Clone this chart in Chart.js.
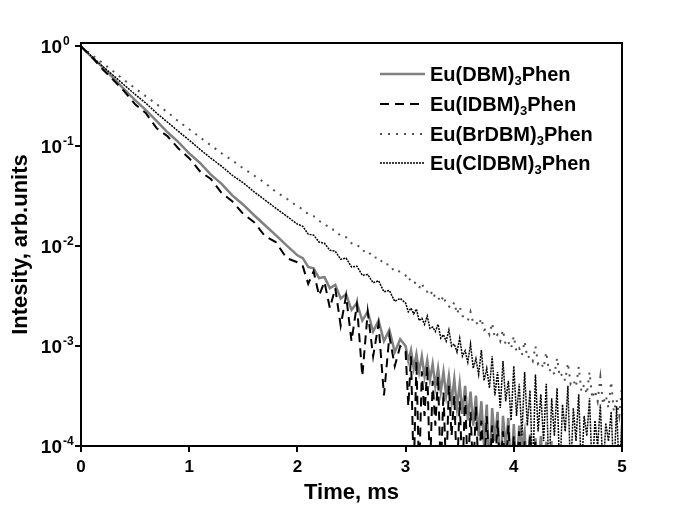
<!DOCTYPE html>
<html>
<head>
<meta charset="utf-8">
<script src="https://cdn.jsdelivr.net/npm/chart.js@4.4.0/dist/chart.umd.min.js"></script>
<style>
  html, body { margin: 0; padding: 0; background: #fff; }
  #wrap { width: 678px; height: 521px; }
</style>
</head>
<body>
<div id="wrap"><canvas id="decay" width="678" height="521"></canvas></div>
<script>
// time axis, ms (coarse at the start, finer where the tails get noisy)
const times = [
  0, 0.1, 0.2, 0.3, 0.4, 0.5, 0.6, 0.7, 0.8, 0.9, 1, 1.1, 1.2, 1.3, 1.4, 1.5, 1.6, 1.7, 1.8, 1.9, 2,
  2.05, 2.1, 2.15, 2.2, 2.25, 2.3, 2.35, 2.4, 2.45, 2.5, 2.55, 2.6, 2.65, 2.7, 2.75, 2.8, 2.85, 2.9, 2.95,
  3, 3.025, 3.05, 3.075, 3.1, 3.125, 3.15, 3.175, 3.2, 3.225, 3.25, 3.275, 3.3, 3.325, 3.35, 3.375, 3.4, 3.425, 3.45, 3.475,
  3.5, 3.525, 3.55, 3.575, 3.6, 3.625, 3.65, 3.675, 3.7, 3.725, 3.75, 3.775, 3.8, 3.825, 3.85, 3.875, 3.9, 3.925, 3.95, 3.975,
  4, 4.025, 4.05, 4.075, 4.1, 4.125, 4.15, 4.175, 4.2, 4.225, 4.25, 4.275, 4.3, 4.325, 4.35, 4.375, 4.4, 4.425, 4.45, 4.475,
  4.5, 4.525, 4.55, 4.575, 4.6, 4.625, 4.65, 4.675, 4.7, 4.725, 4.75, 4.775, 4.8, 4.825, 4.85, 4.875, 4.9, 4.925, 4.95, 4.975, 5
];

// normalised intensity (values under 1e-4 sit below the frame)
const dbm = [
  1, 0.78, 0.62, 0.48, 0.37, 0.29, 0.23, 0.178, 0.138, 0.110, 0.085, 0.068, 0.052, 0.042, 0.032, 0.026, 0.0204, 0.0162, 0.0129, 0.0102, 0.0081,
  0.0076, 0.0062, 0.0060, 0.0048, 0.0049, 0.0038, 0.0041, 0.0030, 0.0033, 0.0023, 0.0027, 0.0018, 0.0022, 0.0014, 0.0018, 0.00112, 0.00145, 0.00087, 0.00117,
  1.0e-3, 7.1e-4, 9.1e-4, 6.0e-4, 8.3e-4, 5.5e-4, 7.9e-4, 5.0e-4, 7.2e-4, 4.6e-4, 6.6e-4, 4.0e-4, 6.0e-4, 3.5e-4, 5.5e-4, 3.2e-4, 5.0e-4, 2.75e-4, 4.7e-4, 2.4e-4,
  4.2e-4, 2.1e-4, 4.0e-4, 1.8e-4, 3.5e-4, 1.6e-4, 3.2e-4, 1.26e-4, 2.8e-4, 1.0e-4, 2.6e-4, 5e-5, 2.4e-4, 1.12e-4, 2.2e-4, 5e-5, 2.0e-4, 1.0e-4, 1.9e-4, 5e-5,
  1.66e-4, 5e-5, 1.6e-4, 1.0e-4, 1.4e-4, 5e-5, 1.3e-4, 5e-5, 1.2e-4, 5e-5, 1.26e-4, 5e-5, 1.1e-4, 5e-5, 1.12e-4, null, null, null, null, null,
  null, null, null, null, null, null, null, null, null, null, null, null, null, null, null, null, null, null, null, null, null
];
const idbm = [
  1, 0.78, 0.59, 0.46, 0.355, 0.263, 0.214, 0.151, 0.126, 0.095, 0.076, 0.056, 0.047, 0.034, 0.028, 0.021, 0.0174, 0.0126, 0.011, 0.0076, 0.0069,
  0.0063, 0.0042, 0.0056, 0.0032, 0.0044, 0.0024, 0.0038, 0.0016, 0.0032, 0.00112, 0.0026, 5.0e-4, 0.0022, 7.9e-4, 0.00166, 3.2e-4, 0.00126, 6.3e-4, 1.0e-3,
  8.9e-4, 2.5e-4, 7.9e-4, 5e-5, 7.1e-4, 5e-5, 5.6e-4, 2.0e-4, 6.3e-4, 5e-5, 4.5e-4, 1.6e-4, 5.0e-4, 5e-5, 3.5e-4, 5e-5, 4.0e-4, 1.26e-4, 3.2e-4, 5e-5,
  2.8e-4, 5e-5, 3.2e-4, 5e-5, 2.2e-4, 5e-5, 2.5e-4, 5e-5, 1.8e-4, 5e-5, 2.0e-4, 5e-5, 1.6e-4, 5e-5, 1.8e-4, 5e-5, 1.4e-4, 5e-5, 1.6e-4, 5e-5,
  1.26e-4, 5e-5, 1.4e-4, 5e-5, 1.12e-4, 5e-5, 1.26e-4, 5e-5, 1.12e-4, null, null, null, null, null, null, null, null, null, null, null,
  null, null, null, null, null, null, null, null, null, null, null, null, null, null, null, null, null, null, null, null, null
];
const brdbm = [
  1, 0.82, 0.68, 0.56, 0.46, 0.38, 0.316, 0.263, 0.219, 0.178, 0.148, 0.123, 0.102, 0.085, 0.072, 0.060, 0.051, 0.043, 0.035, 0.030, 0.025,
  0.0234, 0.0209, 0.0200, 0.0178, 0.0170, 0.0148, 0.0145, 0.0126, 0.0123, 0.0107, 0.0105, 0.0089, 0.0091, 0.0076, 0.0078, 0.0065, 0.0066, 0.0055, 0.0056,
  5.1e-3, 4.5e-3, 4.8e-3, 4.4e-3, 4.2e-3, 3.8e-3, 4.3e-3, 3.6e-3, 3.5e-3, 3.2e-3, 3.6e-3, 3.0e-3, 3.1e-3, 2.75e-3, 3.2e-3, 2.6e-3, 2.5e-3, 2.4e-3, 2.75e-3, 2.1e-3,
  2.5e-3, 2.0e-3, 1.95e-3, 1.8e-3, 2.2e-3, 1.7e-3, 1.75e-3, 1.6e-3, 1.9e-3, 1.45e-3, 1.5e-3, 1.3e-3, 1.7e-3, 1.2e-3, 1.3e-3, 1.12e-3, 1.45e-3, 1.02e-3, 1.1e-3, 9.5e-4,
  1.26e-3, 8.7e-4, 9.5e-4, 8.1e-4, 1.12e-3, 7.6e-4, 8.0e-4, 7.1e-4, 1.0e-3, 6.6e-4, 6.9e-4, 6.0e-4, 8.7e-4, 5.6e-4, 6.0e-4, 5.2e-4, 7.6e-4, 4.9e-4, 5.3e-4, 4.5e-4,
  6.8e-4, 4.2e-4, 4.6e-4, 3.9e-4, 6.2e-4, 3.5e-4, 4.1e-4, 3.3e-4, 5.5e-4, 3.0e-4, 3.6e-4, 2.8e-4, 4.9e-4, 2.6e-4, 3.2e-4, 2.4e-4, 4.4e-4, 2.2e-4, 2.9e-4, 2.0e-4, 4.0e-4
];
const cldbm = [
  1, 0.79, 0.63, 0.51, 0.41, 0.33, 0.27, 0.214, 0.174, 0.141, 0.115, 0.093, 0.076, 0.063, 0.051, 0.043, 0.035, 0.029, 0.024, 0.020, 0.0166,
  0.0158, 0.0132, 0.0129, 0.0110, 0.0107, 0.0091, 0.0089, 0.0074, 0.0076, 0.0062, 0.0063, 0.0051, 0.0052, 0.0043, 0.0045, 0.0035, 0.0036, 0.0028, 0.0030,
  2.7e-3, 2.2e-3, 2.4e-3, 2.1e-3, 2.35e-3, 1.8e-3, 1.9e-3, 1.65e-3, 2.0e-3, 1.5e-3, 1.55e-3, 1.4e-3, 1.65e-3, 1.2e-3, 1.3e-3, 1.12e-3, 1.45e-3, 1.0e-3, 1.05e-3, 8.7e-4,
  1.2e-3, 7.9e-4, 9.0e-4, 6.9e-4, 1.05e-3, 6.0e-4, 7.5e-4, 5.2e-4, 9.1e-4, 4.5e-4, 6.0e-4, 3.8e-4, 7.9e-4, 3.2e-4, 5.5e-4, 2.4e-4, 7.1e-4, 2.8e-4, 4.5e-4, 1.8e-4,
  6.3e-4, 2.0e-4, 4.2e-4, 1.26e-4, 5.5e-4, 1.6e-4, 3.6e-4, 5e-5, 5.2e-4, 1.4e-4, 3.3e-4, 1.12e-4, 4.2e-4, 5e-5, 3.0e-4, 1.26e-4, 3.8e-4, 5e-5, 2.6e-4, 1.4e-4,
  4.0e-4, 5e-5, 2.4e-4, 1.12e-4, 3.3e-4, 5e-5, 2.0e-4, 1.26e-4, 3.0e-4, 5e-5, 1.8e-4, 1.0e-4, 2.6e-4, 5e-5, 1.7e-4, 1.12e-4, 2.2e-4, 5e-5, 2.5e-4, 5e-5, 2.0e-4
];

const ligands = ['Eu(DBM)', 'Eu(IDBM)', 'Eu(BrDBM)', 'Eu(ClDBM)'];
const xTicks = [0, 1, 2, 3, 4, 5];
const yTicks = [1e-4, 1e-3, 1e-2, 1e-1, 1];
const xTitle = 'Time, ms';
const yTitle = 'Intesity, arb.units';

const FONT = '"Liberation Sans", Arial, sans-serif';

// line look per series, same order as ligands
const styles = [
  { color: '#808080', width: 2.5, dash: [], order: 4 },
  { color: '#000000', width: 2, dash: [9, 6], order: 1 },
  { color: '#505050', width: 2, dash: [2, 6], order: 3 },
  { color: '#000000', width: 1.5, dash: [2, 1], order: 2 }
];

var decor = {
  id: 'decor',
  afterDraw: function (chart) {
    var ctx = chart.ctx;
    var a = chart.chartArea;
    var xs = chart.scales.x, ys = chart.scales.y;
    ctx.save();

    // closed frame
    ctx.strokeStyle = '#000';
    ctx.lineWidth = 2;
    ctx.strokeRect(a.left, a.top, a.right - a.left, a.bottom - a.top);

    ctx.fillStyle = '#000';
    // y tick labels, 10 with exponent
    yTicks.forEach(function (v) {
      var py = ys.getPixelForValue(v);
      ctx.font = 'bold 19px ' + FONT;
      ctx.textAlign = 'right';
      ctx.textBaseline = 'alphabetic';
      ctx.fillText('10', 62, py + 7);
      ctx.font = 'bold 12px ' + FONT;
      ctx.textAlign = 'left';
      ctx.fillText(String(Math.round(Math.log10(v))), 63, py - 1);
    });

    // x tick labels
    ctx.font = 'bold 17px ' + FONT;
    ctx.textAlign = 'center';
    xTicks.forEach(function (v) {
      ctx.fillText(String(v), xs.getPixelForValue(v), 472);
    });

    // axis titles
    ctx.font = 'bold 22px ' + FONT;
    ctx.fillText(xTitle, (a.left + a.right) / 2, 499);
    ctx.save();
    ctx.translate(27, (a.top + a.bottom) / 2);
    ctx.rotate(-Math.PI / 2);
    ctx.fillText(yTitle, 0, 0);
    ctx.restore();

    // legend with subscript 3
    var rows = [74, 104, 134, 163];
    ligands.forEach(function (name, i) {
      var y = rows[i], s = styles[i];
      ctx.beginPath();
      ctx.strokeStyle = s.color;
      ctx.lineWidth = s.width;
      ctx.setLineDash(s.dash);
      ctx.moveTo(380, y);
      ctx.lineTo(425, y);
      ctx.stroke();
      ctx.setLineDash([]);

      var x = 430;
      ctx.textAlign = 'left';
      ctx.font = 'bold 20px ' + FONT;
      ctx.fillText(name, x, y + 7);
      x += ctx.measureText(name).width;
      ctx.font = 'bold 13px ' + FONT;
      ctx.fillText('3', x, y + 11);
      x += ctx.measureText('3').width;
      ctx.font = 'bold 20px ' + FONT;
      ctx.fillText('Phen', x, y + 7);
    });
    ctx.restore();
  }
};

var series = [dbm, idbm, brdbm, cldbm];
var datasets = series.map(function (vals, i) {
  var s = styles[i];
  return {
    label: ligands[i] + '3Phen',
    data: vals,
    borderColor: s.color,
    borderWidth: s.width,
    borderDash: s.dash,
    order: s.order,
    pointRadius: 0,
    tension: 0,
    fill: false,
    spanGaps: false
  };
});

new Chart(document.getElementById('decay').getContext('2d'), {
  type: 'line',
  data: { labels: times, datasets: datasets },
  plugins: [decor],
  options: {
    responsive: false,
    animation: false,
    events: [],
    layout: { padding: { top: 43, right: 56, left: 0, bottom: 0 } },
    plugins: { legend: { display: false }, tooltip: { enabled: false } },
    scales: {
      x: {
        type: 'linear',
        min: 0,
        max: 5,
        ticks: { display: false, stepSize: 1 },
        afterBuildTicks: function (scale) { scale.ticks = xTicks.map(function (v) { return { value: v }; }); },
        afterFit: function (scale) { scale.height = 75; },
        grid: { drawOnChartArea: false, drawTicks: true, tickLength: 6, color: '#000', lineWidth: 2 },
        border: { display: true, color: '#000', width: 2 }
      },
      y: {
        type: 'logarithmic',
        min: 1e-4,
        max: 1.08,
        ticks: { display: false },
        afterBuildTicks: function (scale) { scale.ticks = yTicks.map(function (v) { return { value: v }; }); },
        afterFit: function (scale) { scale.width = 81; },
        grid: { drawOnChartArea: false, drawTicks: true, tickLength: 6, color: '#000', lineWidth: 2 },
        border: { display: true, color: '#000', width: 2 }
      }
    }
  }
});
</script>
</body>
</html>
